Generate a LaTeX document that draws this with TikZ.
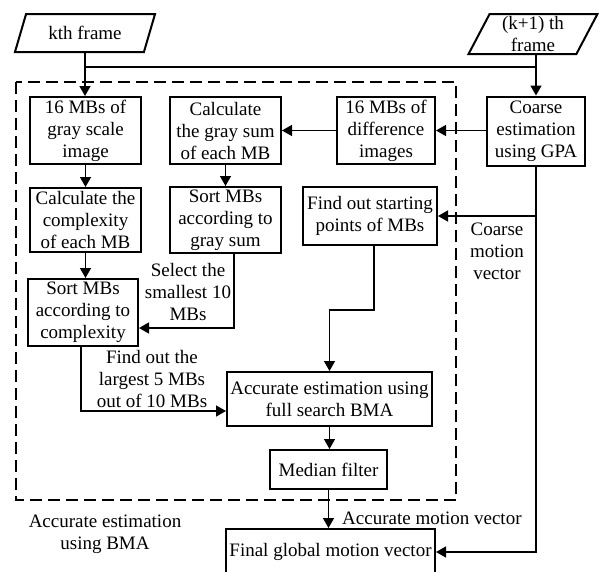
\documentclass[tikz,border=0pt]{standalone}
\usepackage{fontspec}
\setmainfont{Liberation Serif}
\usetikzlibrary{arrows.meta, positioning, shapes.geometric}

\begin{document}
\begin{tikzpicture}[x=1pt, y=-1pt,
  txt/.style={font=\fontsize{19}{22}\selectfont},
  box/.style={txt, rectangle, draw=black, line width=2pt, fill=white,
              minimum width=111pt, minimum height=67pt, inner sep=0pt, align=center},
  inframe/.style={txt, trapezium, trapezium left angle=63, trapezium right angle=117,
              trapezium stretches=true, draw=black, line width=2pt, inner sep=0pt, align=center},
  lbl/.style={txt, align=center, inner sep=0pt},
  arr/.style={-{Triangle[length=10pt, width=11pt]}, line width=1.5pt},
  lin/.style={line width=1.5pt}]
  \useasboundingbox (0,0) rectangle (599,571);
  \clip (0,0) rectangle (599,571);
  % inputs
  \node[inframe, minimum width=141pt, minimum height=38pt] (kth) at (85,33) {kth frame};
  \node[inframe, minimum width=130pt, minimum height=40pt, trapezium left angle=67,
        trapezium right angle=113] (kp1) at (533,34) {(k+1) th\\frame};
  % BMA part
  \draw[line width=2pt, dash pattern=on 12pt off 6pt] (16,82) rectangle (456,500);
  \node[box] (gray) at (85.5,130.5) {16 MBs of\\gray scale\\image};
  \node[box] (gsum) at (225.5,130.5) {Calculate\\the gray sum\\of each MB};
  \node[box, minimum width=98pt] (diff) at (386,130.5) {16 MBs of\\difference\\images};
  \node[box, minimum width=98pt, minimum height=69pt] (coarse) at (536,131) {Coarse\\estimation\\using GPA};
  \node[box, minimum height=64pt] (cplx) at (85.5,220) {Calculate the\\complexity\\of each MB};
  \node[box, minimum height=66pt] (sortg) at (225.5,220) {Sort MBs\\according to\\gray sum};
  \node[box, minimum width=134pt, minimum height=58pt] (start) at (370,216) {Find out starting\\points of MBs};
  \node[box, minimum width=110pt] (sortc) at (83,312.5) {Sort MBs\\according to\\complexity};
  \node[box, minimum width=205pt, minimum height=54pt] (acc) at (329.5,399) {Accurate estimation using\\full search BMA};
  \node[box, minimum width=117pt, minimum height=39pt] (med) at (328.5,469.5) {Median filter};
  \node[box, minimum width=209pt, minimum height=46pt] (final) at (330.5,552) {Final global motion vector};
  % labels
  \node[lbl] (selnote) at (188,292) {Select the\\smallest 10\\MBs};
  \node[lbl] (bignote) at (152,379) {Find out the\\largest 5 MBs\\out of 10 MBs};
  \node[lbl] (cmvnote) at (497,251) {Coarse\\motion\\vector};
  \node[lbl, anchor=west] (amvnote) at (342,518) {Accurate motion vector};
  \node[lbl] (bmanote) at (105,534) {Accurate estimation\\using BMA};
  % connectors
  \draw[arr] (kth.south) -- (kth.south |- gray.north);
  \draw[lin] (kth.south |- 0,67) -- (coarse.north |- 0,67);
  \draw[arr] (coarse.north |- kp1.south) -- (coarse.north);
  \draw[arr] (coarse.west |- diff.east) -- (diff.east);
  \draw[arr] (diff.west) -- (gsum.east);
  \draw[arr] (gray.south) -- (cplx.north);
  \draw[arr] (gsum.south) -- (sortg.north);
  \draw[arr] (cplx.south) -- (cplx.south |- sortc.north);
  \draw[arr] ([xshift=8.5pt]sortg.south) |- ([yshift=-15.5pt]sortc.east);
  \draw[arr] ([xshift=-2pt]sortc.south) |- ([yshift=-12pt]acc.west);
  \draw[arr] (coarse.south |- start.east) -- (start.east);
  \draw[arr] ([xshift=4pt]start.south) |- (acc.north |- 0,310) -- (acc.north);
  \draw[arr] (acc.south) -- (acc.south |- med.north);
  \draw[arr] (med.south) -- (med.south |- final.north);
  \draw[arr] (coarse.south) |- (final.east);
\end{tikzpicture}
\end{document}
